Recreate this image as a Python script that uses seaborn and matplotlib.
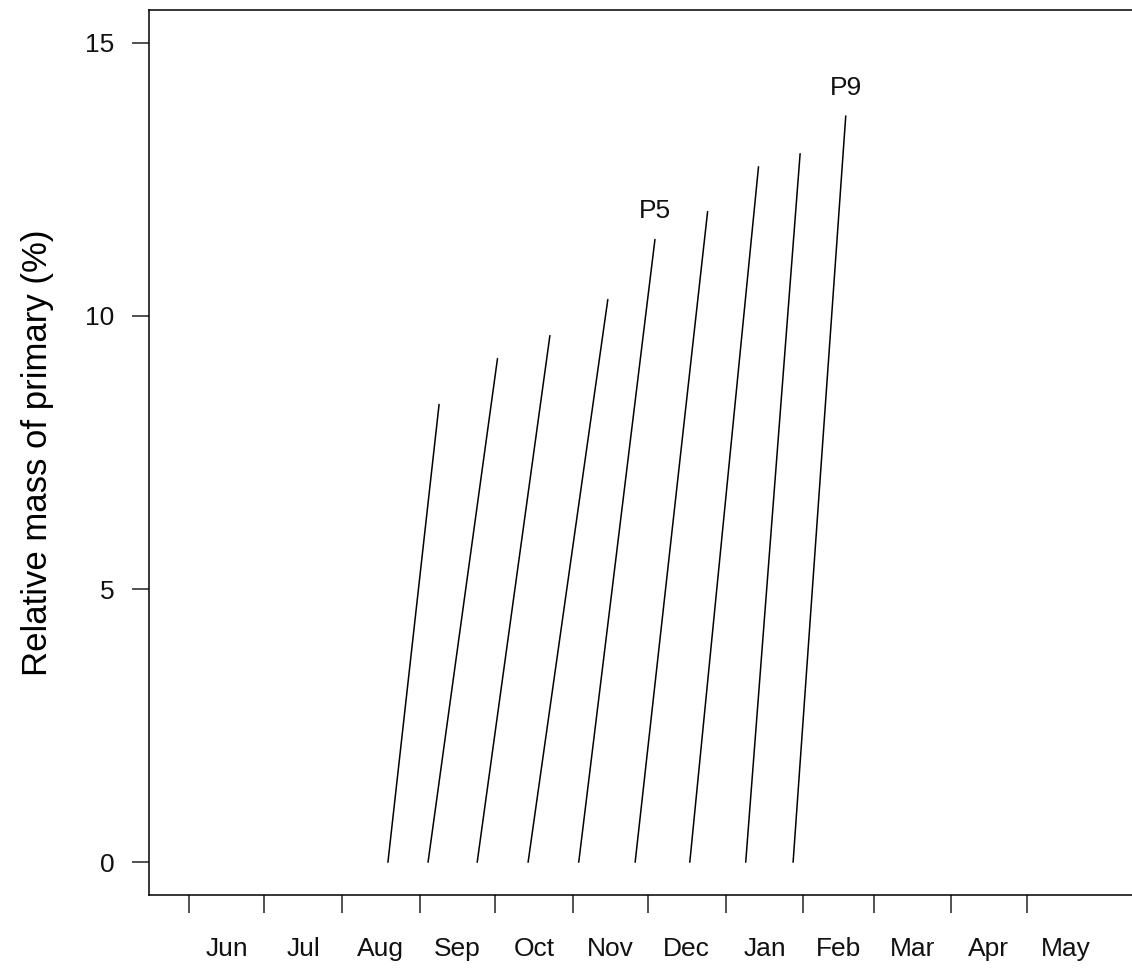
import matplotlib
matplotlib.use("Agg")
import matplotlib.pyplot as plt
import seaborn as sns
import pandas as pd
import numpy as np

# Days counted from 1 June
months = ["Jun", "Jul", "Aug", "Sep", "Oct", "Nov", "Dec", "Jan", "Feb", "Mar", "Apr", "May"]
month_start = [0, 30, 61, 92, 122, 153, 183, 214, 245, 273, 304, 334]
month_len = [30, 31, 31, 30, 31, 30, 31, 31, 28, 31, 30, 31]

cohort = ["P1", "P2", "P3", "P4", "P5", "P6", "P7", "P8", "P9"]
start_day = [79.3, 95.3, 114.9, 135.2, 155.4, 177.9, 199.7, 222.0, 240.9]
end_day = [99.7, 123.0, 143.9, 167.0, 185.8, 206.8, 227.1, 243.7, 261.9]
start_val = [0, 0, 0, 0, 0, 0, 0, 0, 0]
end_val = [8.38, 9.22, 9.64, 10.30, 11.40, 11.91, 12.73, 12.97, 13.66]
labelled = ["P5", "P9"]

rows = []
for c, d0, d1, v0, v1 in zip(cohort, start_day, end_day, start_val, end_val):
    rows.append({"cohort": c, "day": d0, "value": v0})
    rows.append({"cohort": c, "day": d1, "value": v1})
df = pd.DataFrame(rows)

sns.set_theme(style="white")
plt.rcParams["font.family"] = ["Liberation Sans", "DejaVu Sans"]

W, H = 1132, 968
fig = plt.figure(figsize=(W / 100, H / 100), dpi=100)
xmin, xmax = -16, 380
px_per_day = (1026.7 - 189.3) / 334
ax_w = (xmax - xmin) * px_per_day
ax = fig.add_axes([149 / W, (H - 895) / H, ax_w / W, 885 / H])

sns.lineplot(data=df, x="day", y="value", units="cohort", estimator=None,
             color="black", lw=1.1, ax=ax, legend=False)

for c, d1, v1 in zip(cohort, end_day, end_val):
    if c in labelled:
        ax.text(d1, v1 + 0.3, c, ha="center", va="bottom", fontsize=19, color="#111111")

ax.set_xlim(xmin, xmax)
ax.set_ylim(-0.6, 15.6)

ax.set_yticks([0, 5, 10, 15])
ax.set_yticklabels(["0", "5", "10", "15"])
ax.set_xticks(month_start)
ax.set_xticklabels([""] * len(month_start))
mids = [s + l / 2 for s, l in zip(month_start, month_len)]
ax.set_xticks(mids, minor=True)
ax.set_xticklabels(months, minor=True)

ax.tick_params(axis="x", which="major", direction="out", length=13, width=1.1,
               color="#222222", bottom=True)
ax.tick_params(axis="x", which="minor", length=0, pad=30, labelsize=19, labelcolor="#111111")
ax.tick_params(axis="y", which="major", direction="out", length=12, width=1.1,
               color="#222222", left=True, pad=13, labelsize=19, labelcolor="#111111")

for s in ax.spines.values():
    s.set_color("black")
    s.set_linewidth(1.1)
    s.set_visible(True)

ax.set_xlabel("")
ax.set_ylabel("Relative mass of primary (%)", fontsize=25, color="black", va="center")
ax.yaxis.set_label_coords((38 - 149) / ax_w, 0.5)

fig.savefig("out.png", dpi=100, facecolor="white")
